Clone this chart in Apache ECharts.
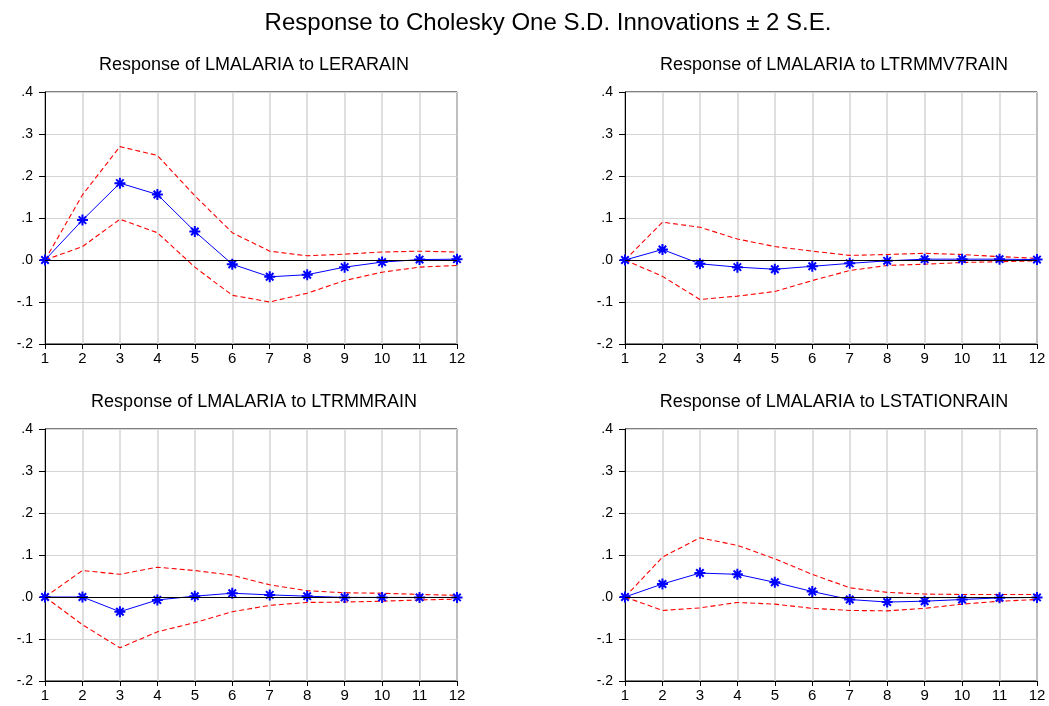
<!DOCTYPE html>
<html>
<head>
<meta charset="utf-8">
<script src="https://cdn.jsdelivr.net/npm/echarts@6/dist/echarts.min.js"></script>
<style>
  html, body { margin: 0; padding: 0; background: #fff; }
  #main { width: 1049px; height: 706px; }
</style>
</head>
<body>
<div id="main"></div>
<script>
// horizons (periods) on the x axis
const horizons = [1, 2, 3, 4, 5, 6, 7, 8, 9, 10, 11, 12];

// LERARAIN shock
const lerarainResp  = [0, 0.095, 0.183, 0.156, 0.068, -0.010, -0.040, -0.035, -0.017, -0.005, 0.001, 0.002];
const lerarainUpper = [0, 0.155, 0.270, 0.249, 0.153, 0.065, 0.021, 0.010, 0.014, 0.019, 0.021, 0.019];
const lerarainLower = [0, 0.032, 0.097, 0.065, -0.017, -0.084, -0.100, -0.079, -0.049, -0.029, -0.017, -0.013];

// LTRMMV7RAIN shock
const ltrmmv7Resp  = [0, 0.025, -0.009, -0.017, -0.022, -0.015, -0.008, -0.002, 0.002, 0.002, 0.002, 0.001];
const ltrmmv7Upper = [0, 0.090, 0.078, 0.050, 0.032, 0.021, 0.011, 0.013, 0.016, 0.013, 0.008, 0.004];
const ltrmmv7Lower = [0, -0.039, -0.094, -0.086, -0.075, -0.049, -0.025, -0.013, -0.010, -0.006, -0.004, -0.002];

// LTRMMRAIN shock
const ltrmmResp  = [0, 0.000, -0.035, -0.007, 0.002, 0.009, 0.005, 0.002, -0.001, -0.001, -0.001, -0.001];
const ltrmmUpper = [0, 0.063, 0.054, 0.071, 0.063, 0.052, 0.029, 0.015, 0.010, 0.009, 0.006, 0.004];
const ltrmmLower = [0, -0.066, -0.121, -0.083, -0.061, -0.035, -0.020, -0.013, -0.012, -0.010, -0.007, -0.005];

// LSTATIONRAIN shock
const stationResp  = [0, 0.031, 0.057, 0.054, 0.035, 0.013, -0.006, -0.012, -0.010, -0.006, -0.002, -0.001];
const stationUpper = [0, 0.095, 0.141, 0.123, 0.091, 0.054, 0.022, 0.011, 0.007, 0.006, 0.006, 0.006];
const stationLower = [0, -0.032, -0.026, -0.013, -0.017, -0.027, -0.032, -0.033, -0.027, -0.017, -0.010, -0.006];

const yTicks = { min: -0.2, max: 0.4, step: 0.1 };

const mainTitle = 'Response to Cholesky One S.D. Innovations \u00b1 2 S.E.';
const panelTitles = [
  'Response of LMALARIA to LERARAIN',
  'Response of LMALARIA to LTRMMV7RAIN',
  'Response of LMALARIA to LTRMMRAIN',
  'Response of LMALARIA to LSTATIONRAIN'
];
const panelData = [
  [lerarainResp, lerarainUpper, lerarainLower],
  [ltrmmv7Resp, ltrmmv7Upper, ltrmmv7Lower],
  [ltrmmResp, ltrmmUpper, ltrmmLower],
  [stationResp, stationUpper, stationLower]
];

const FONT = '"Liberation Sans", Arial, Helvetica, sans-serif';
const ASTERISK = 'path://M5,0 L5,10 M0,5 L10,5 M1.6,1.6 L8.4,8.4 M1.6,8.4 L8.4,1.6';

// grid boxes (left, top) for the 4 panels
const boxes = [
  { left: 45, top: 92 },
  { left: 625, top: 92 },
  { left: 45, top: 429 },
  { left: 625, top: 429 }
];
const boxW = 412, boxH = 252;

const pair = arr => arr.map((v, i) => [horizons[i], v]);

const titles = [{
  text: mainTitle, left: 543, top: 6, textAlign: 'center',
  textStyle: { fontFamily: FONT, fontSize: 24, fontWeight: 'normal', color: '#000' }
}];
const grids = [], xAxes = [], yAxes = [], series = [];

boxes.forEach((b, i) => {
  titles.push({
    text: panelTitles[i], left: b.left + boxW / 2 - 2, top: b.top - 41, textAlign: 'center',
    textStyle: { fontFamily: FONT, fontSize: 18, fontWeight: 'normal', color: '#000' }
  });
  grids.push({
    left: b.left, top: b.top, width: boxW, height: boxH,
    show: true, borderColor: '#000', borderWidth: 1, backgroundColor: 'transparent'
  });
  xAxes.push({
    gridIndex: i, type: 'value', min: 1, max: 12, interval: 1,
    axisLine: { show: true, onZero: false, lineStyle: { color: '#000', width: 1 } },
    axisTick: { show: true, inside: false, length: 5, lineStyle: { color: '#000' } },
    axisLabel: { margin: 7, fontFamily: FONT, fontSize: 15, color: '#000' },
    splitLine: { show: true, lineStyle: { color: '#d4d4d4', width: 1.5 } }
  });
  yAxes.push({
    gridIndex: i, type: 'value', min: yTicks.min, max: yTicks.max, interval: yTicks.step,
    axisLine: { show: true, onZero: false, lineStyle: { color: '#000', width: 1 } },
    axisTick: { show: true, inside: false, length: 6, lineStyle: { color: '#000' } },
    axisLabel: {
      margin: 12, fontFamily: FONT, fontSize: 14, color: '#000',
      formatter: v => (Math.round(v * 10) / 10).toFixed(1).replace('0.', '.')
    },
    splitLine: { show: true, lineStyle: { color: '#d4d4d4', width: 1 } }
  });
  const [resp, upper, lower] = panelData[i];
  series.push({
    type: 'line', xAxisIndex: i, yAxisIndex: i, data: pair(lower),
    symbol: 'none', silent: true, z: 2,
    lineStyle: { color: '#ff0000', width: 1.1, type: [5, 3] },
    markLine: {
      silent: true, symbol: 'none', label: { show: false },
      lineStyle: { color: '#000', type: 'solid', width: 1 },
      data: [{ yAxis: 0 }]
    }
  });
  series.push({
    type: 'line', xAxisIndex: i, yAxisIndex: i, data: pair(upper),
    symbol: 'none', silent: true, z: 2,
    lineStyle: { color: '#ff0000', width: 1.1, type: [5, 3] }
  });
  series.push({
    type: 'line', xAxisIndex: i, yAxisIndex: i, data: pair(resp),
    symbol: ASTERISK, symbolSize: 11, showAllSymbol: true, silent: true, z: 3,
    lineStyle: { color: '#0000ff', width: 1 },
    itemStyle: { color: '#0000ff', borderColor: '#0000ff', borderWidth: 2 }
  });
});

const myChart = echarts.init(document.getElementById('main'), null, { renderer: 'canvas' });
myChart.setOption({
  backgroundColor: '#fff',
  animation: false,
  title: titles,
  grid: grids,
  xAxis: xAxes,
  yAxis: yAxes,
  series: series
});
</script>
</body>
</html>
